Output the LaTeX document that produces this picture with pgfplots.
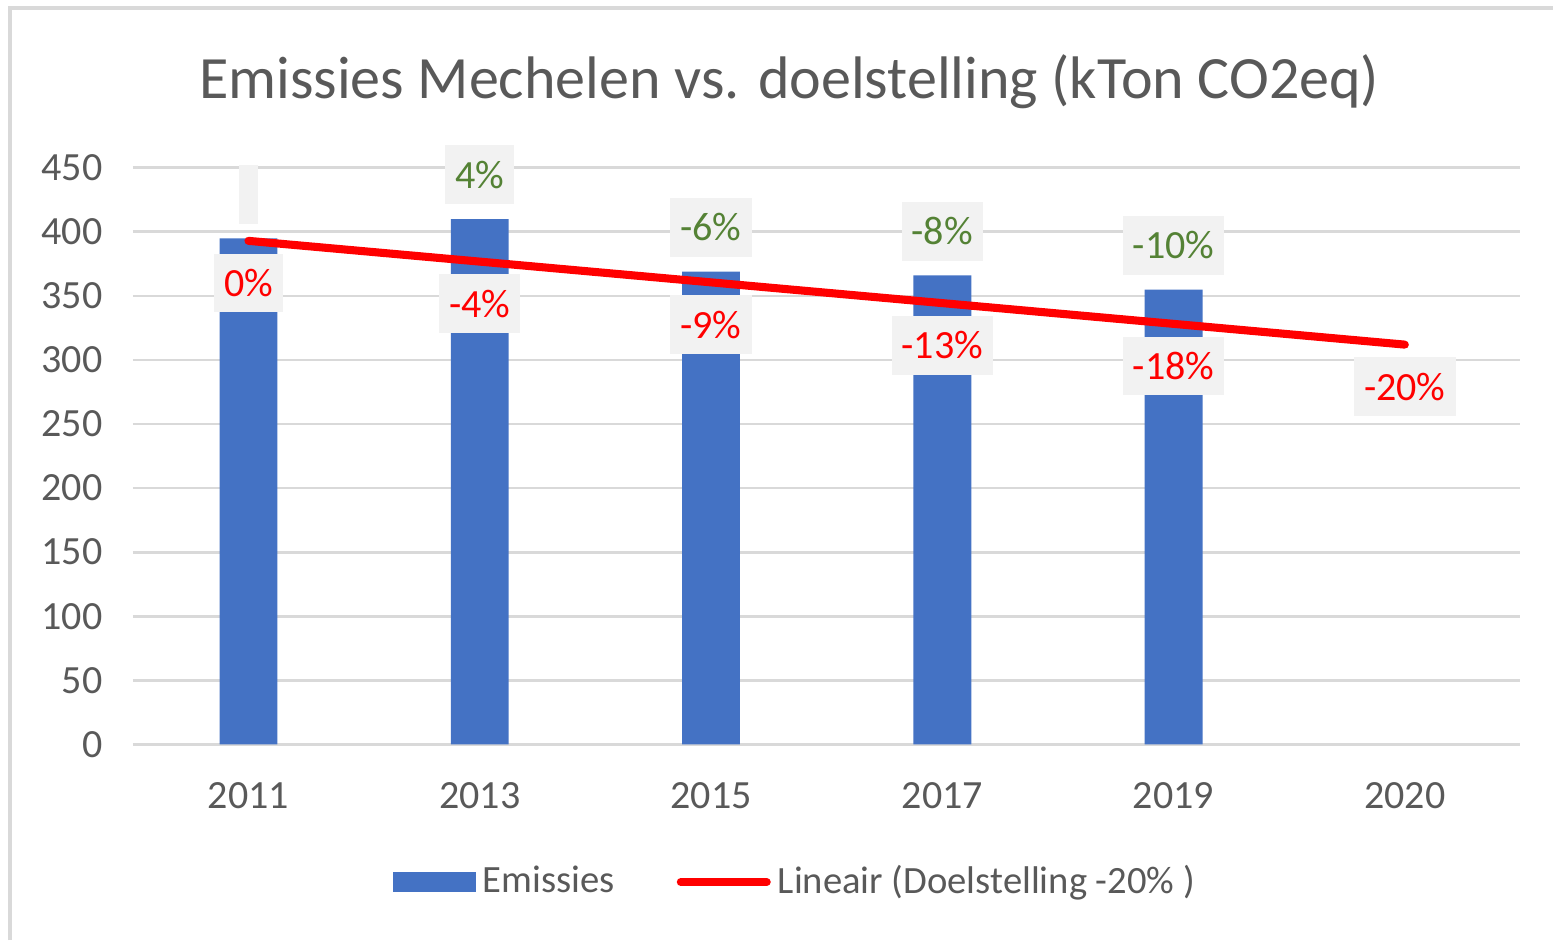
\documentclass[border=0pt]{standalone}
\usepackage{pgfplots}
\pgfplotsset{compat=1.18}
\usepackage{fontspec}
\setmainfont{Carlito}

\definecolor{barblue}{HTML}{4472C4}
\definecolor{txtgray}{HTML}{595959}
\definecolor{gridgray}{HTML}{D9D9D9}
\definecolor{boxgray}{HTML}{F2F2F2}
\definecolor{lblgreen}{HTML}{548235}
\definecolor{lnred}{HTML}{FF0000}

\newcommand{\lblfont}{\fontsize{11.4}{13}\selectfont}

\begin{document}
\begin{tikzpicture}
  % canvas: 15.55cm x 9.41cm, origin top left
  \path (0,0) rectangle (15.55,-9.41);
  \draw[gridgray, line width=0.9pt] (0.10,-9.41) -- (0.10,-0.08) -- (15.55,-0.08);
  \node[text=txtgray, font=\fontsize{17.1}{20}\selectfont] at (7.90,-0.82)
    {Emissies Mechelen vs. doelstelling (kTon CO2eq)};

  \begin{axis}[
      at={(1.33cm,-7.45cm)}, anchor=south west,
      scale only axis,
      width=13.89cm, height=5.77cm,
      xmin=-0.5, xmax=5.5,
      ymin=0, ymax=450,
      ytick distance=50,
      xtick={0,...,5},
      xticklabels={2011,2013,2015,2017,2019,2020},
      axis line style={draw=none},
      tick style={draw=none},
      ymajorgrids,
      grid style={gridgray, line width=0.8pt},
      /pgf/number format/assume math mode=true,
      ticklabel style={font=\lblfont, text=txtgray},
      yticklabel style={xshift=-0.18cm},
      xticklabel style={yshift=-0.26cm},
      legend style={
        at={(0.479,-0.239)}, anchor=center,
        draw=none, fill=none,
        legend columns=-1,
        font=\fontsize{11}{13}\selectfont, text=txtgray,
        /tikz/every even column/.append style={column sep=0.55cm},
      },
    ]
    % emissions
    \addplot[ybar, bar width=0.58cm, fill=barblue, draw=none,
      legend image code/.code={\fill[barblue] (0cm,-0.1cm) rectangle (0.83cm,0.1cm);}]
      table {
        x y
        0 395
        1 410
        2 369
        3 366
        4 355
      };
    \addlegendentry{Emissies}

    % change versus 2011, above the bars
    \addplot[draw=none, forget plot,
      point meta=explicit symbolic,
      nodes near coords,
      nodes near coords style={font=\lblfont, text=lblgreen, fill=boxgray,
        inner xsep=0.1cm, inner ysep=0pt, minimum height=0.59cm,
        anchor=south, yshift=0.14cm}]
      table[meta=label] {
        x y label
        0 395 {}
        1 410 4\%
        2 369 -6\%
        3 366 -8\%
        4 355 -10\%
      };

    % target labels, below the line
    \addplot[draw=none, forget plot,
      point meta=explicit symbolic,
      nodes near coords,
      nodes near coords style={font=\lblfont, text=lnred, fill=boxgray,
        inner xsep=0.1cm, inner ysep=0pt, minimum height=0.59cm,
        anchor=north, yshift=-0.12cm}]
      table[meta=label] {
        x y label
        0 393.0 0\%
        1 376.8 -4\%
        2 360.6 -9\%
        3 344.4 -13\%
        4 328.2 -18\%
        5 312.0 -20\%
      };

    % linear target
    \addplot[lnred, line width=2.3pt, line cap=round,
      legend image code/.code={\draw[lnred, line width=2.3pt, line cap=round] (0cm,0cm) -- (0.86cm,0cm);}]
      table {
        x y
        0 393.0
        1 376.8
        2 360.6
        3 344.4
        4 328.2
        5 312.0
      };
    \addlegendentry{Lineair (Doelstelling -20\% )}
  \end{axis}
\end{tikzpicture}
\end{document}
